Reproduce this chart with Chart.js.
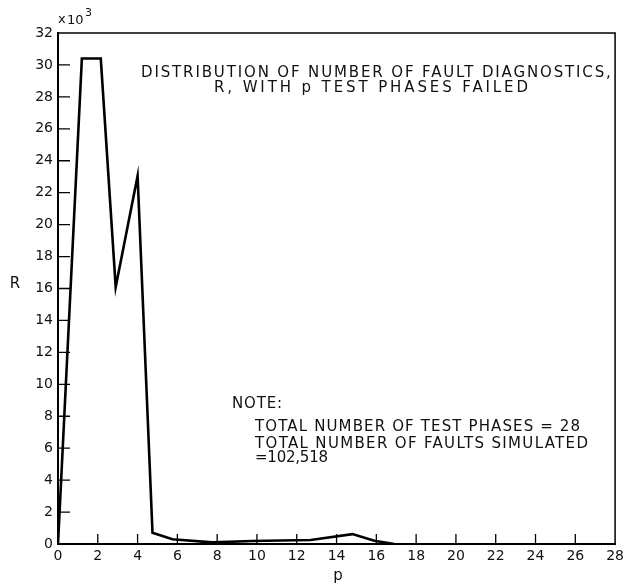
<!DOCTYPE html>
<html>
<head>
<meta charset="utf-8">
<script src="https://cdn.jsdelivr.net/npm/chart.js@4"></script>
<style>
  html, body { margin: 0; padding: 0; background: #fff; }
  #wrap { width: 628px; height: 585px; position: relative; }
</style>
</head>
<body>
<div id="wrap"><canvas id="c" width="628" height="585"></canvas></div>
<script>
// ---- data ----
const pValues = [0, 1.2, 2.15, 2.9, 4.0, 4.75, 5.75, 7.75, 9.75, 12.7, 14.8, 15.9, 16.9];
const rValues = [0, 30.4, 30.4, 16.1, 23.05, 0.7, 0.3, 0.1, 0.19, 0.25, 0.62, 0.2, 0];   // in units of 10^3
const xTickStep = 2, xMin = 0, xMax = 28;
const yTickStep = 2, yMin = 0, yMax = 32;

const titleLines = ["DISTRIBUTION OF NUMBER OF FAULT DIAGNOSTICS,", "R, WITH p TEST PHASES FAILED"];
const noteLines = ["NOTE:", "TOTAL NUMBER OF TEST PHASES = 28", "TOTAL NUMBER OF FAULTS SIMULATED", "=102,518"];
const yAxisLabel = "R";
const xAxisLabel = "p";

const points = pValues.map((p, i) => ({ x: p, y: rValues[i] }));

function fitText(ctx, text, x, y, targetW) {
  ctx.letterSpacing = '0px';
  const w = ctx.measureText(text).width;
  const n = Math.max(text.length - 1, 1);
  const ls = (targetW - w) / n;
  ctx.letterSpacing = ls.toFixed(2) + 'px';
  ctx.fillText(text, x, y);
  ctx.letterSpacing = '0px';
}

const decor = {
  id: 'decor',
  afterDraw(chart) {
    const ctx = chart.ctx;
    const a = chart.chartArea;
    const xs = chart.scales.x, ys = chart.scales.y;
    ctx.save();
    ctx.strokeStyle = '#000';
    ctx.lineWidth = 1.5;
    // frame top & right
    ctx.beginPath();
    ctx.moveTo(a.left, a.top); ctx.lineTo(a.right, a.top); ctx.lineTo(a.right, a.bottom);
    ctx.stroke();
    // inward ticks
    ctx.lineWidth = 1.3;
    ctx.beginPath();
    xs.ticks.forEach(t => {
      if (t.value === xMin || t.value === xMax) return;
      const px = xs.getPixelForValue(t.value);
      ctx.moveTo(px, a.bottom); ctx.lineTo(px, a.bottom - 10);
    });
    ys.ticks.forEach(t => {
      if (t.value === yMin || t.value === yMax) return;
      const py = ys.getPixelForValue(t.value);
      ctx.moveTo(a.left, py); ctx.lineTo(a.left + 12, py);
    });
    ctx.stroke();

    ctx.fillStyle = '#111';
    ctx.textBaseline = 'alphabetic';
    ctx.textAlign = 'left';
    ctx.font = '15px "DejaVu Sans"';
    fitText(ctx, titleLines[0], 141, 77, 470);
    fitText(ctx, titleLines[1], 214, 92, 314);
    fitText(ctx, noteLines[0], 232, 408, 50);
    fitText(ctx, noteLines[1], 255, 431, 325);
    fitText(ctx, noteLines[2], 255, 448, 333);
    fitText(ctx, noteLines[3], 255, 462, 73);

    // axis unit x10^3
    ctx.font = '13px "DejaVu Sans"';
    ctx.fillText('x', 58, 23);
    ctx.fillText('10', 67, 24);
    ctx.font = '11px "DejaVu Sans"';
    ctx.fillText('3', 85, 16);

    // axis titles
    ctx.font = '15px "DejaVu Sans"';
    ctx.textAlign = 'center';
    ctx.fillText(yAxisLabel, 15, 288);
    ctx.fillText(xAxisLabel, 338, 580);
    ctx.restore();
  }
};

new Chart(document.getElementById('c'), {
  type: 'line',
  data: {
    datasets: [{
      data: points,
      borderColor: '#000',
      borderWidth: 2.6,
      pointRadius: 0,
      tension: 0,
      fill: false
    }]
  },
  options: {
    responsive: false,
    animation: false,
    devicePixelRatio: 1,
    layout: { padding: { top: 33, right: 10, left: 0, bottom: 0 } },
    plugins: { legend: { display: false }, tooltip: { enabled: false }, title: { display: false } },
    scales: {
      x: {
        type: 'linear', min: xMin, max: xMax,
        ticks: { stepSize: xTickStep, color: '#111', font: { family: 'DejaVu Sans', size: 14 }, padding: 4, maxRotation: 0, autoSkip: false },
        grid: { display: true, drawOnChartArea: false, drawTicks: false },
        border: { display: true, color: '#000', width: 2 },
        afterFit: s => { s.height = 41; }
      },
      y: {
        type: 'linear', min: yMin, max: yMax,
        ticks: { stepSize: yTickStep, color: '#111', font: { family: 'DejaVu Sans', size: 14 }, padding: 5, autoSkip: false },
        grid: { display: true, drawOnChartArea: false, drawTicks: false },
        border: { display: true, color: '#000', width: 2 },
        afterFit: s => { s.width = 58; }
      }
    }
  },
  plugins: [decor]
});
</script>
</body>
</html>
